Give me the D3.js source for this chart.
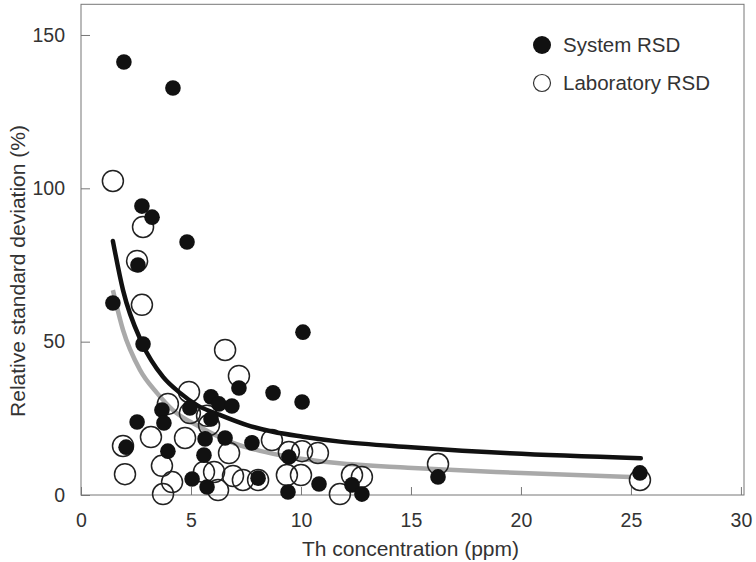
<!DOCTYPE html>
<html>
<head>
<meta charset="utf-8">
<script src="https://cdn.jsdelivr.net/npm/d3@7"></script>
<style>
  body { margin: 0; background: #fff; }
  text { font-family: "Liberation Sans", Arial, sans-serif; fill: #333; }
</style>
</head>
<body>
<div id="root"></div>
<script>
// System RSD (filled) – [Th ppm, RSD %]
const systemRSD = [
  [1.95, 141.2], [4.18, 132.7], [2.77, 94.2], [3.23, 90.6], [4.82, 82.5],
  [2.59, 75.0], [1.45, 62.6], [2.82, 49.2], [10.09, 53.1], [8.73, 33.3],
  [10.05, 30.3], [7.18, 34.9], [5.91, 32.0], [6.27, 29.7], [6.86, 29.0],
  [3.68, 27.7], [4.95, 28.4], [5.91, 24.8], [3.77, 23.5], [2.55, 23.8],
  [6.55, 18.6], [5.64, 18.3], [7.77, 17.0], [2.05, 15.6], [3.95, 14.3],
  [5.59, 13.0], [9.45, 12.4], [5.05, 5.2], [5.73, 2.6], [8.05, 5.5],
  [10.82, 3.6], [9.41, 1.0], [12.32, 3.3], [12.77, 0.3], [16.23, 5.9],
  [25.41, 7.2]
];
// Laboratory RSD (open)
const labRSD = [
  [1.45, 102.4], [2.82, 87.4], [2.55, 76.3], [2.77, 62.0], [6.55, 47.3],
  [7.18, 38.8], [4.91, 33.6], [3.95, 29.7], [4.95, 26.7], [5.73, 25.8],
  [5.82, 22.8], [3.18, 18.9], [4.73, 18.6], [1.91, 16.0], [6.73, 13.7],
  [8.68, 17.9], [9.45, 14.0], [10.05, 14.3], [10.77, 13.7], [3.68, 9.5],
  [2.0, 6.8], [4.14, 4.2], [3.73, 0.3], [5.59, 7.5], [6.05, 7.5],
  [6.91, 6.2], [7.36, 4.9], [6.23, 1.6], [8.05, 4.9], [9.36, 6.5],
  [10.0, 6.5], [11.77, 0.3], [12.32, 6.5], [12.77, 5.9], [16.23, 10.1],
  [25.41, 4.9]
];
// fitted curves
const systemFit = [
  [1.45, 82.8], [1.91, 66.8], [2.77, 49.6], [3.73, 38.5], [4.5, 33.3],
  [5.27, 29.3], [6.32, 26.1], [7.55, 22.8], [8.73, 20.6], [10.09, 19.0],
  [11.77, 17.4], [15.0, 15.6], [19.5, 13.6], [25.45, 12.0]
];
const labFit = [
  [1.45, 66.8], [1.91, 53.8], [2.68, 40.8], [3.45, 33.3], [4.18, 27.7],
  [5.41, 22.2], [6.91, 17.0], [8.14, 14.4], [9.36, 12.6], [10.27, 11.6],
  [11.64, 10.4], [14.86, 8.9], [18.86, 7.5], [25.0, 5.9]
];
const xTicks = [0, 5, 10, 15, 20, 25, 30];
const yTicks = [0, 50, 100, 150];

const W = 756, H = 562;
const svg = d3.select("#root").append("svg").attr("width", W).attr("height", H);

let x = d3.scaleLinear().domain([0, 30.14]).range([81, 744]);
let y = d3.scaleLinear().domain([0, 160]).range([495, 4.3]);

// frame
svg.append("rect")
  .attr("x", x(0)).attr("y", y(160))
  .attr("width", x(30.14) - x(0)).attr("height", y(0) - y(160))
  .attr("fill", "none").attr("stroke", "#777").attr("stroke-width", 1);

let xAxisG = svg.append("g")
  .attr("transform", `translate(0,${y(0)})`)
  .call(d3.axisBottom(x).tickValues(xTicks).tickSizeInner(-8).tickSizeOuter(0).tickPadding(18));
let yAxisG = svg.append("g")
  .attr("transform", `translate(${x(0)},0)`)
  .call(d3.axisLeft(y).tickValues(yTicks).tickSizeInner(-9).tickSizeOuter(0).tickPadding(16));
[xAxisG, yAxisG].forEach(g => {
  g.select(".domain").remove();
  g.selectAll("line").attr("stroke", "#777");
  g.selectAll("text").attr("font-size", 19.5).attr("fill", "#333")
    .attr("font-family", "Liberation Sans, Arial, sans-serif");
});

// axis titles
svg.append("text")
  .attr("x", 410.5).attr("y", 556)
  .attr("text-anchor", "middle").attr("font-size", 21)
  .text("Th concentration (ppm)");
svg.append("text")
  .attr("transform", "translate(25,271) rotate(-90)")
  .attr("text-anchor", "middle").attr("font-size", 21)
  .text("Relative standard deviation (%)");

let line = d3.line().curve(d3.curveMonotoneX).x(d => x(d[0])).y(d => y(d[1]));

// grey (laboratory) fit
svg.append("path").datum(labFit)
  .attr("d", line).attr("fill", "none")
  .attr("stroke", "#a9a9a9").attr("stroke-width", 4.5);

// open circles
svg.append("g").selectAll("circle").data(labRSD).join("circle")
  .attr("cx", d => x(d[0])).attr("cy", d => y(d[1])).attr("r", 10.5)
  .attr("fill", "none").attr("stroke", "#222").attr("stroke-width", 1.5);

// black (system) fit
svg.append("path").datum(systemFit)
  .attr("d", line).attr("fill", "none")
  .attr("stroke", "#111").attr("stroke-width", 4.5).attr("stroke-linecap", "round");

// filled circles
svg.append("g").selectAll("circle").data(systemRSD).join("circle")
  .attr("cx", d => x(d[0])).attr("cy", d => y(d[1])).attr("r", 7.8)
  .attr("fill", "#111");

// legend
let legend = svg.append("g");
legend.append("circle").attr("cx", 542).attr("cy", 45).attr("r", 9).attr("fill", "#111");
legend.append("circle").attr("cx", 542).attr("cy", 83).attr("r", 8.5)
  .attr("fill", "none").attr("stroke", "#333").attr("stroke-width", 1.2);
legend.append("text").attr("x", 563).attr("y", 52).attr("font-size", 20.5).text("System RSD");
legend.append("text").attr("x", 563).attr("y", 90).attr("font-size", 20.5).text("Laboratory RSD");
</script>
</body>
</html>
